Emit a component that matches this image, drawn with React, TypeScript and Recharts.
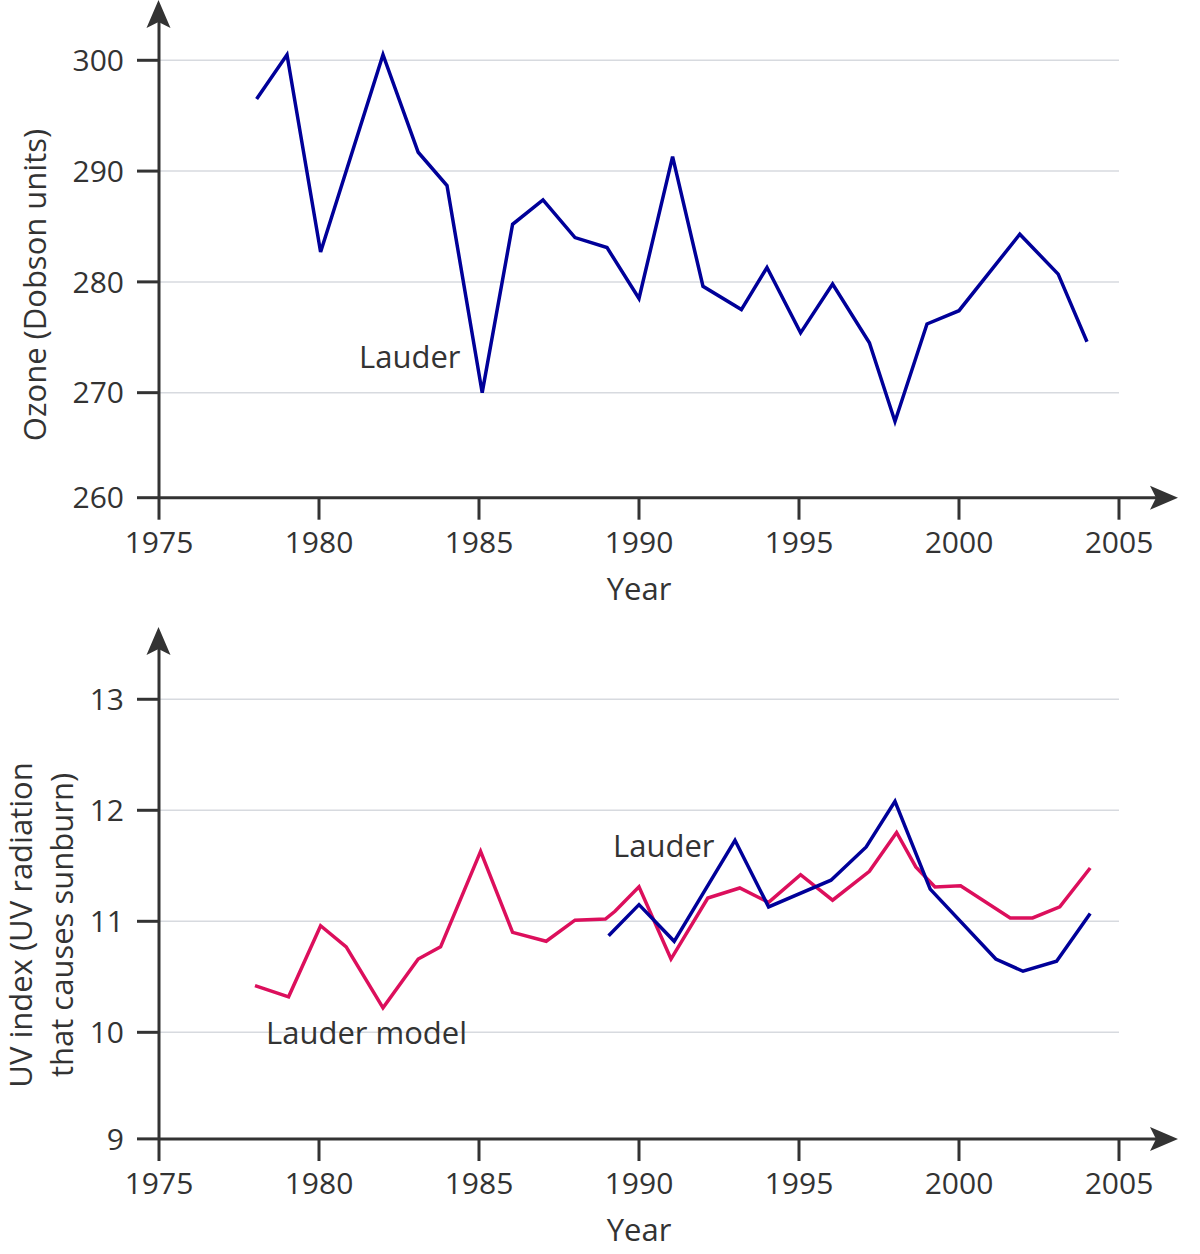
import React from 'react';
import { LineChart, Line, XAxis, YAxis, CartesianGrid } from 'recharts';

// ---- data ----
const ozoneYears = [1978.05, 1979, 1980.05, 1982, 1983.1, 1984, 1985.1, 1986.05, 1987, 1988, 1989, 1990, 1991.05, 1992, 1993.2, 1994, 1995.05, 1996.05, 1997.2, 1998, 1999, 2000, 2001.9, 2003.1, 2004];
const ozoneLauder = [296.5, 300.5, 282.7, 300.5, 291.7, 288.7, 270.0, 285.2, 287.4, 284.0, 283.1, 278.5, 291.3, 279.6, 277.5, 281.3, 275.4, 279.8, 274.5, 267.4, 276.2, 277.4, 284.3, 280.7, 274.6];

const modelYears = [1978, 1979.05, 1980.05, 1980.85, 1982, 1983.1, 1983.8, 1985.05, 1986.05, 1987.1, 1988, 1988.95, 1989.25, 1990, 1991, 1992.15, 1993.15, 1994.05, 1995.05, 1996.05, 1997.2, 1998.05, 1998.65, 1999.25, 2000.05, 2001.6, 2002.3, 2003.15, 2004.1];
const uvModel = [10.42, 10.32, 10.96, 10.77, 10.22, 10.66, 10.77, 11.63, 10.9, 10.82, 11.01, 11.02, 11.09, 11.31, 10.66, 11.21, 11.3, 11.17, 11.42, 11.19, 11.45, 11.8, 11.49, 11.31, 11.32, 11.03, 11.03, 11.13, 11.48];

const uvYears = [1989.05, 1990, 1991.1, 1993, 1994.05, 1996, 1997.1, 1998, 1999.1, 2001.15, 2002, 2003.05, 2004.1];
const uvLauder = [10.87, 11.15, 10.82, 11.73, 11.13, 11.37, 11.67, 12.08, 11.29, 10.66, 10.55, 10.64, 11.07];

const yearTicks = [1975, 1980, 1985, 1990, 1995, 2000, 2005];
const ozoneTicks = [260.52, 270, 280, 290, 300];
const ozoneGrid = [270, 280, 290, 300];
const uvTicks = [9.04, 10, 11, 12, 13];
const uvGrid = [10, 11, 12, 13];

const ozoneData = ozoneYears.map((year, i) => ({ year, v: ozoneLauder[i] }));
const modelData = modelYears.map((year, i) => ({ year, v: uvModel[i] }));
const lauderData = uvYears.map((year, i) => ({ year, v: uvLauder[i] }));

// ---- styling ----
const FONT = '"Open Sans", "Noto Sans", sans-serif';
const FS = 30;
const TITLE_FS = 31;
const INK = '#333333';
const BLUE = '#000099';
const PINK = '#dc0f5c';
const GRID = '#d7dadf';

const axisLine = { stroke: INK, strokeWidth: 3 };
const tickStyle = { fill: INK, fontSize: FS, fontFamily: FONT };

const PLOT_LEFT = 159;
const GRID_WIDTH = 960; // 1975 → 2005

function Arrow({ tipX, tipY, dir }: { tipX: number; tipY: number; dir: 'up' | 'right' }) {
  const L = 28;
  const W = 12;
  const N = 6;
  const d =
    dir === 'up'
      ? `M${tipX},${tipY} L${tipX + W},${tipY + L} L${tipX},${tipY + L - N} L${tipX - W},${tipY + L} Z`
      : `M${tipX},${tipY} L${tipX - L},${tipY - W} L${tipX - L + N},${tipY} L${tipX - L},${tipY + W} Z`;
  return <path d={d} fill={INK} />;
}

export default function App() {
  return (
    <div style={{ position: 'absolute', left: 0, top: 0, width: 1200, height: 1254, background: '#fff' }}>
      {/* Ozone */}
      <div style={{ position: 'absolute', left: 0, top: 0 }}>
        <LineChart width={1200} height={620} margin={{ top: 8, right: 30, bottom: 62.3, left: 59 }}>
          <CartesianGrid
            vertical={false}
            horizontalValues={ozoneGrid}
            stroke={GRID}
            strokeWidth={1.5}
            x={PLOT_LEFT}
            width={GRID_WIDTH}
          />
          <XAxis
            type="number"
            dataKey="year"
            domain={[1975, 2006.594]}
            ticks={yearTicks}
            interval={0}
            allowDataOverflow
            height={60}
            tickSize={22}
            tickMargin={12}
            axisLine={axisLine}
            tickLine={axisLine}
            tick={tickStyle}
          />
          <YAxis
            type="number"
            domain={[260.52, 304.72]}
            ticks={ozoneTicks}
            interval={0}
            allowDataOverflow
            width={100}
            tickSize={22}
            tickMargin={13}
            axisLine={axisLine}
            tickLine={axisLine}
            tick={tickStyle}
            tickFormatter={(v: number) => String(Math.round(v / 10) * 10)}
          />
          <Line data={ozoneData} dataKey="v" stroke={BLUE} strokeWidth={3.5} dot={false} isAnimationActive={false} />
        </LineChart>
      </div>

      {/* UV index */}
      <div style={{ position: 'absolute', left: 0, top: 620 }}>
        <LineChart width={1200} height={634} margin={{ top: 13, right: 30, bottom: 55, left: 59 }}>
          <CartesianGrid
            vertical={false}
            horizontalValues={uvGrid}
            stroke={GRID}
            strokeWidth={1.5}
            x={PLOT_LEFT}
            width={GRID_WIDTH}
          />
          <XAxis
            type="number"
            dataKey="year"
            domain={[1975, 2006.594]}
            ticks={yearTicks}
            interval={0}
            allowDataOverflow
            height={60}
            tickSize={22}
            tickMargin={12}
            axisLine={axisLine}
            tickLine={axisLine}
            tick={tickStyle}
          />
          <YAxis
            type="number"
            domain={[9.039, 13.597]}
            ticks={uvTicks}
            interval={0}
            allowDataOverflow
            width={100}
            tickSize={22}
            tickMargin={13}
            axisLine={axisLine}
            tickLine={axisLine}
            tick={tickStyle}
            tickFormatter={(v: number) => String(Math.round(v))}
          />
          <Line data={modelData} dataKey="v" stroke={PINK} strokeWidth={3.5} dot={false} isAnimationActive={false} />
          <Line data={lauderData} dataKey="v" stroke={BLUE} strokeWidth={3.5} dot={false} isAnimationActive={false} />
        </LineChart>
      </div>

      {/* arrowheads, series labels and axis titles */}
      <svg
        width={1200}
        height={1254}
        style={{ position: 'absolute', left: 0, top: 0, pointerEvents: 'none' }}
        fontFamily={FONT}
        fontSize={TITLE_FS}
        fill={INK}
      >
        <Arrow tipX={158.5} tipY={0} dir="up" />
        <Arrow tipX={1178} tipY={497.7} dir="right" />
        <Arrow tipX={158.5} tipY={627} dir="up" />
        <Arrow tipX={1178} tipY={1139} dir="right" />

        <text x={359} y={368}>Lauder</text>
        <text x={613} y={857}>Lauder</text>
        <text x={266} y={1044}>Lauder model</text>

        <text x={639} y={600} textAnchor="middle">Year</text>
        <text x={639} y={1241} textAnchor="middle">Year</text>

        <text transform="translate(46,285) rotate(-90)" textAnchor="middle">Ozone (Dobson units)</text>
        <text transform="translate(32,925) rotate(-90)" textAnchor="middle">UV index (UV radiation</text>
        <text transform="translate(73,925) rotate(-90)" textAnchor="middle">that causes sunburn)</text>
      </svg>
    </div>
  );
}
